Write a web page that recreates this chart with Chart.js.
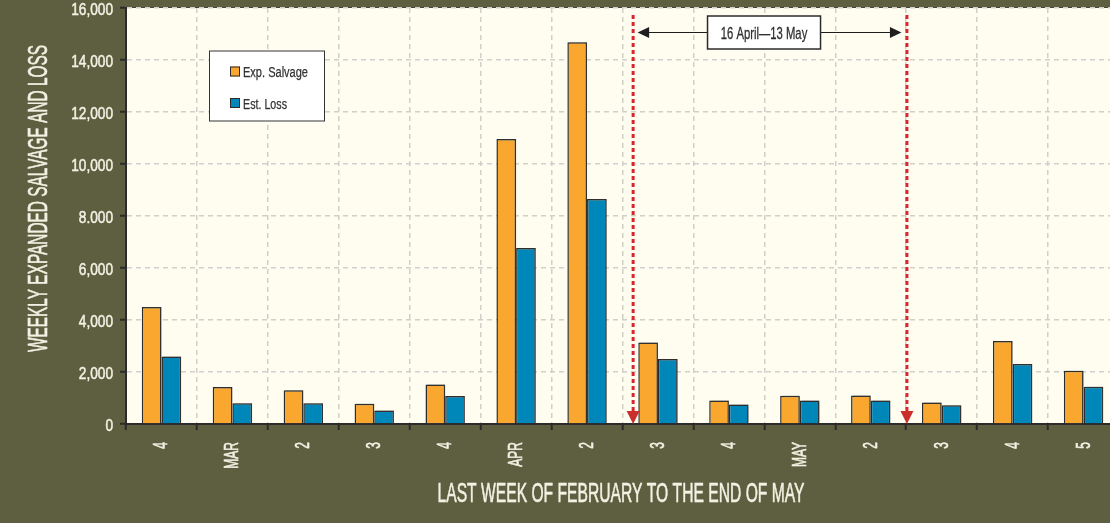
<!DOCTYPE html>
<html>
<head>
<meta charset="utf-8">
<title>Weekly expanded salvage and loss</title>
<script src="https://cdn.jsdelivr.net/npm/chart.js@4.4.1/dist/chart.umd.min.js"></script>
<style>
  html, body { margin: 0; padding: 0; background: #5e5f40; overflow: hidden; }
  #wrap { width: 1110px; height: 523px; overflow: hidden; position: relative; }
  canvas { display: block; }
</style>
</head>
<body>
<div id="wrap"><canvas id="chart" width="1119" height="523"></canvas></div>
<script>
// Weeks from the last week of February to the end of May
const weekLabels = ['4', 'MAR', '2', '3', '4', 'APR', '2', '3', '4', 'MAY', '2', '3', '4', '5'];
const expSalvage = [4500, 1420, 1300, 780, 1520, 10960, 14680, 3130, 900, 1090, 1100, 830, 3190, 2050];
const estLoss    = [2600, 800, 800, 520, 1080, 6770, 8650, 2500, 750, 900, 900, 720, 2310, 1430];
const yTickLabels = ['0', '2,000', '4,000', '6,000', '8.000', '10,000', '12,000', '14,000', '16,000'];
// 16 April and 13 May, in week-axis units
const periodBounds = [6.65, 10.51];
const periodLabel = '16 April\u201413 May';
const xTitle = 'LAST WEEK OF FEBRUARY TO THE END OF MAY';
const yTitle = 'WEEKLY EXPANDED SALVAGE AND LOSS';

const FONT = '"Liberation Sans", Arial, sans-serif';
const INK = '#2b2b2b';
const PALE = '#f3f1e3';
const ORANGE = '#f9a72f';
const BLUE = '#0087ba';

// Text narrowed along its own direction by a fixed factor, with a hairline
// outline in the same colour to keep the strokes from looking too thin
function squeezedText(ctx, text, x, y, size, squeeze, rotation, align, color, weight) {
  ctx.save();
  ctx.font = size + 'px ' + FONT;
  ctx.translate(x, y);
  ctx.rotate(rotation);
  ctx.scale(squeeze, 1);
  ctx.fillStyle = color;
  ctx.strokeStyle = color;
  ctx.lineWidth = weight || 0;
  ctx.lineJoin = 'round';
  ctx.textAlign = align;
  ctx.textBaseline = 'alphabetic';
  ctx.fillText(text, 0, 0);
  if (weight) ctx.strokeText(text, 0, 0);
  ctx.restore();
}

// Text narrowed so that it spans the given width
function fittedText(ctx, text, x, y, size, width, rotation, align, color, weight) {
  ctx.save();
  ctx.font = size + 'px ' + FONT;
  const natural = ctx.measureText(text).width;
  ctx.restore();
  squeezedText(ctx, text, x, y, size, width / natural, rotation, align, color, weight);
}

const plotBackground = {
  id: 'plotBackground',
  beforeDraw(chart) {
    const { ctx, chartArea: a } = chart;
    ctx.save();
    ctx.fillStyle = '#5e5f40';
    ctx.fillRect(0, 0, chart.width, chart.height);
    ctx.fillStyle = '#fffdf0';
    ctx.fillRect(a.left, a.top, a.right - a.left, a.bottom - a.top);
    ctx.strokeStyle = 'rgba(60,60,45,0.75)';
    ctx.lineWidth = 1;
    ctx.beginPath();
    ctx.moveTo(a.left, a.top - 0.5);
    ctx.lineTo(a.right, a.top - 0.5);
    ctx.stroke();
    ctx.restore();
  }
};

const barShadow = {
  id: 'barShadow',
  beforeDatasetsDraw(chart) {
    const ctx = chart.ctx;
    ctx.save();
    ctx.shadowColor = 'rgba(70,70,70,0.35)';
    ctx.shadowOffsetX = 2;
    ctx.shadowOffsetY = -1;
    ctx.shadowBlur = 1;
  },
  afterDatasetsDraw(chart) {
    chart.ctx.restore();
  }
};

// Tick labels in a narrow face, placed from the scales' own ticks
const tickLabels = {
  id: 'tickLabels',
  afterDraw(chart) {
    const { ctx, scales: { x, y } } = chart;
    y.ticks.forEach((t, i) => {
      const py = y.getPixelForTick(i);
      squeezedText(ctx, t.label, y.right - 13, py + 6.5, 16.3, 0.84, 0, 'right', PALE, 0.5);
    });
    x.ticks.forEach((t, i) => {
      const px = x.getPixelForTick(i);
      squeezedText(ctx, t.label, px + 6, x.top + 18, 20, 0.6, -Math.PI / 2, 'right', PALE, 0.6);
    });
  }
};

const overlay = {
  id: 'overlay',
  afterDraw(chart) {
    const { ctx, chartArea: a, scales: { x } } = chart;
    ctx.save();

    // Period boundaries: dotted red lines ending in arrowheads on the axis
    const px = periodBounds.map(v => x.getPixelForValue(v));
    px.forEach(p => {
      ctx.strokeStyle = '#d8262f';
      ctx.lineWidth = 3;
      ctx.setLineDash([4, 3]);
      ctx.beginPath();
      ctx.moveTo(p, a.top + 7);
      ctx.lineTo(p, a.bottom - 13);
      ctx.stroke();
      ctx.setLineDash([]);
      ctx.fillStyle = '#c9302c';
      ctx.beginPath();
      ctx.moveTo(p - 6.5, a.bottom - 13);
      ctx.lineTo(p + 6.5, a.bottom - 13);
      ctx.lineTo(p, a.bottom);
      ctx.closePath();
      ctx.fill();
    });

    // Double arrow spanning the period, with its label box
    const ay = a.top + 24.5;
    const l = px[0] + 4.5, r = px[1] - 5.5;
    ctx.strokeStyle = '#1e1e1e';
    ctx.fillStyle = '#1e1e1e';
    ctx.lineWidth = 1.2;
    ctx.beginPath();
    ctx.moveTo(l + 8, ay);
    ctx.lineTo(r - 8, ay);
    ctx.stroke();
    ctx.beginPath();
    ctx.moveTo(l, ay); ctx.lineTo(l + 11.5, ay - 5.5); ctx.lineTo(l + 11.5, ay + 5.5); ctx.closePath();
    ctx.fill();
    ctx.beginPath();
    ctx.moveTo(r, ay); ctx.lineTo(r - 11.5, ay - 5.5); ctx.lineTo(r - 11.5, ay + 5.5); ctx.closePath();
    ctx.fill();

    const bx = (px[0] + px[1]) / 2 - 6;
    ctx.fillStyle = '#ffffff';
    ctx.fillRect(bx - 56.5, a.top + 8, 113, 33);
    ctx.strokeStyle = INK;
    ctx.lineWidth = 1.5;
    ctx.strokeRect(bx - 56.5, a.top + 8, 113, 33);
    fittedText(ctx, periodLabel, bx, a.top + 30.5, 17, 86.5, 0, 'center', '#2e2e2e', 0.3);

    // Legend
    const lx = 209, ly = 50.5;
    ctx.fillStyle = '#ffffff';
    ctx.fillRect(lx, ly, 116, 71);
    ctx.strokeStyle = '#333333';
    ctx.lineWidth = 1;
    ctx.strokeRect(lx + 0.5, ly + 0.5, 115, 70);
    const widths = [65, 44];
    chart.data.datasets.forEach((ds, i) => {
      const sy = ly + 16 + i * 31.5;
      ctx.fillStyle = ds.backgroundColor;
      ctx.fillRect(lx + 21, sy, 10, 10);
      ctx.strokeStyle = INK;
      ctx.lineWidth = 1;
      ctx.strokeRect(lx + 21.5, sy + 0.5, 9, 9);
      fittedText(ctx, ds.label, lx + 34, sy + 10.5, 14, widths[i], 0, 'left', '#333333', 0.25);
    });

    // Axis titles
    fittedText(ctx, yTitle, 46.5, 198.5, 28, 307, -Math.PI / 2, 'center', PALE, 0.6);
    fittedText(ctx, xTitle, (a.left + a.right) / 2 - 1.5, 501.5, 28, 367, 0, 'center', PALE, 0.6);

    ctx.restore();
  }
};

new Chart(document.getElementById('chart'), {
  type: 'bar',
  data: {
    labels: weekLabels,
    datasets: [
      { label: 'Exp. Salvage', data: expSalvage, backgroundColor: ORANGE, borderColor: INK, borderWidth: 1.5 },
      { label: 'Est. Loss', data: estLoss, backgroundColor: BLUE, borderColor: INK, borderWidth: 1.5 }
    ]
  },
  options: {
    responsive: false,
    animation: false,
    devicePixelRatio: 1,
    categoryPercentage: 0.555,
    barPercentage: 1.0,
    layout: { padding: { top: 8, left: 0, right: 0, bottom: 0 } },
    plugins: { legend: { display: false }, tooltip: { enabled: false } },
    scales: {
      x: {
        grid: {
          color: '#d0d0cb', lineWidth: 1.5, offset: true,
          tickLength: 6, tickColor: INK, tickWidth: 2, tickBorderDash: []
        },
        border: { display: true, color: INK, width: 2, dash: [5, 4] },
        ticks: { display: false, autoSkip: false },
        afterFit(s) { s.height = 99; s.paddingLeft = 0; s.paddingRight = 0; }
      },
      y: {
        min: 0, max: 16000,
        grid: {
          color: '#d0d0cb', lineWidth: 1.5,
          tickLength: 6, tickColor: INK, tickWidth: 2, tickBorderDash: []
        },
        border: { display: true, color: INK, width: 2, dash: [5, 4] },
        ticks: {
          display: false, stepSize: 2000,
          callback: (v, i) => yTickLabels[i]
        },
        afterFit(s) { s.width = 126; s.paddingTop = 0; s.paddingBottom = 0; }
      }
    }
  },
  plugins: [plotBackground, barShadow, tickLabels, overlay]
});
</script>
</body>
</html>
